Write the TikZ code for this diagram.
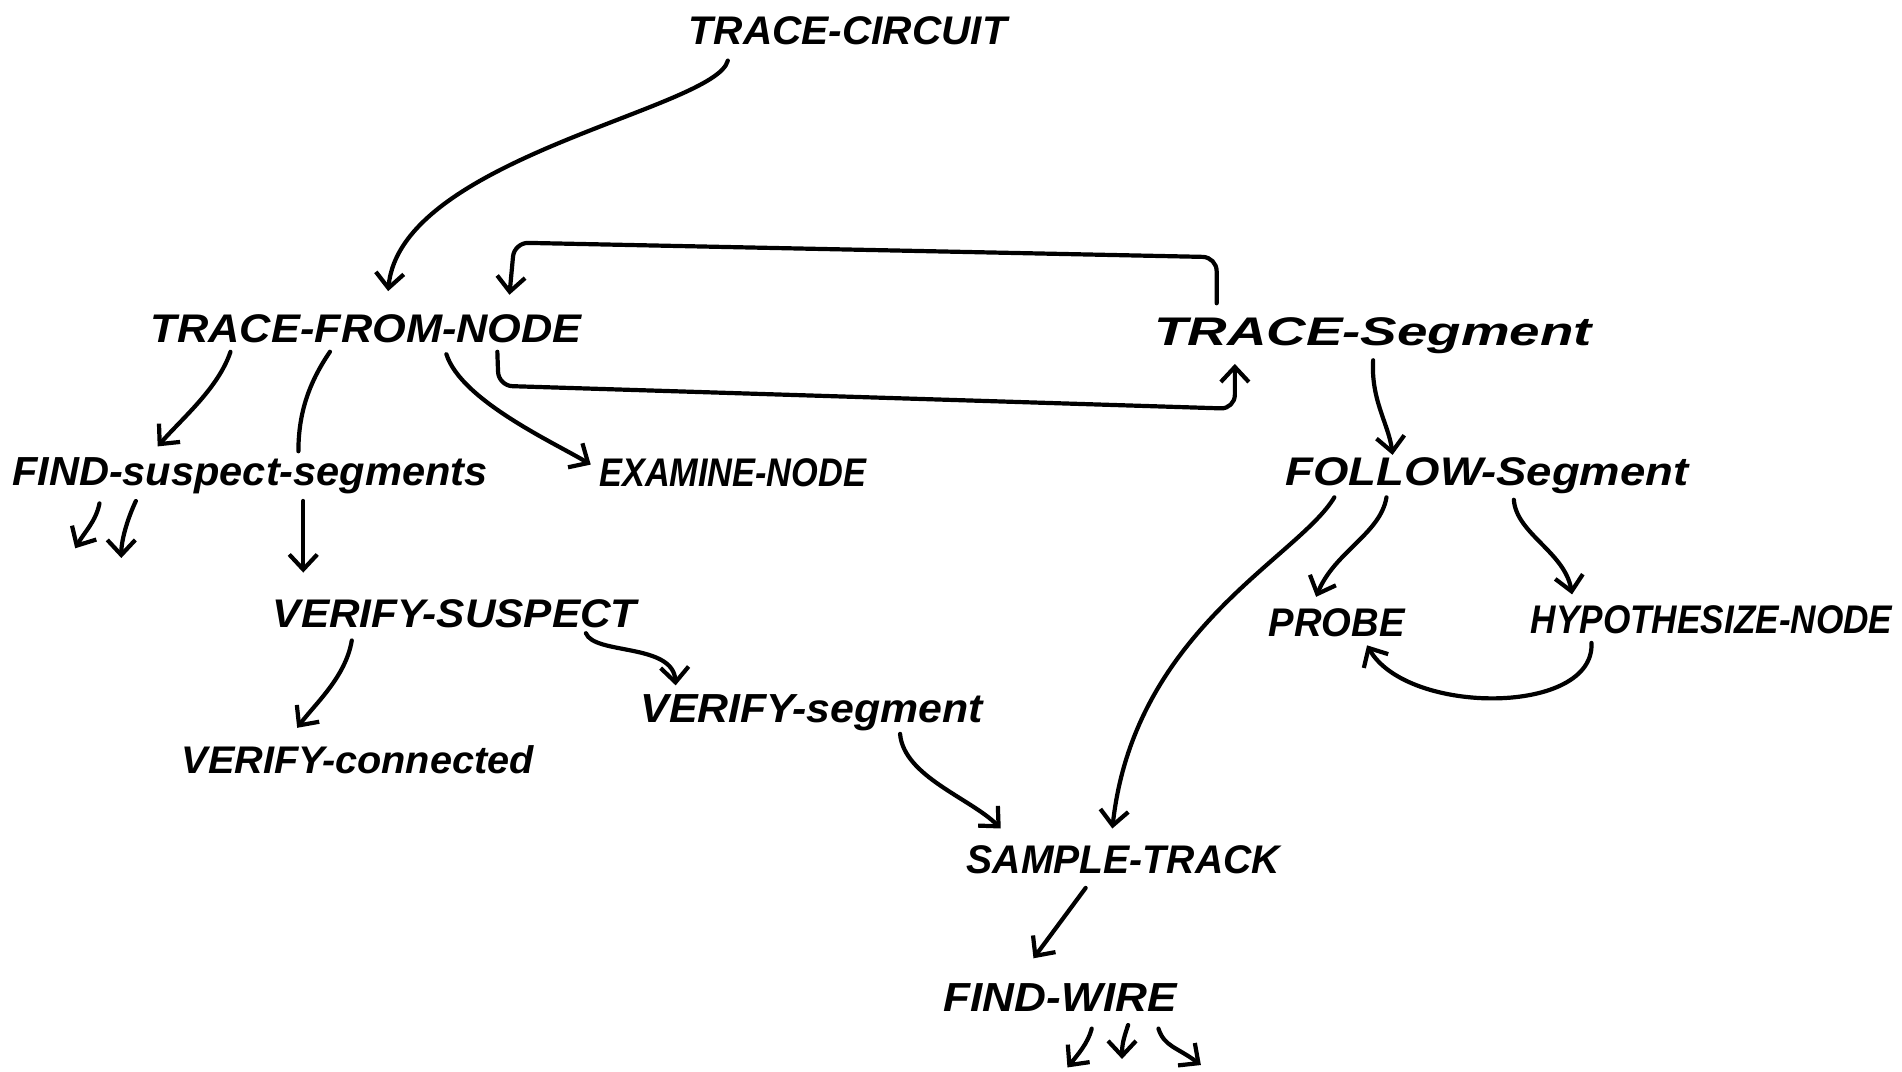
\documentclass[tikz,border=0pt]{standalone}
\usepackage{fontspec}
\setmainfont{Liberation Sans}
\usetikzlibrary{arrows.meta,calc}
\newlength\px \setlength\px{1.213pt}
\newcommand\hw[2]{\resizebox{#1\px}{23\px}{\bfseries\itshape #2}}
\begin{document}
\begin{tikzpicture}[x=1.213pt,y=-1.213pt,
 lbl/.style={inner sep=0pt,anchor=base},
 con/.style={line width=4.2pt,line cap=round,line join=round},
 arr/.style={con,-{Straight Barb[length=15pt,width=28pt]}}]
\useasboundingbox (0,0) rectangle (1568,883);

\node[lbl] (tc)   at (699,37)  {\hw{262}{TRACE-CIRCUIT}};
\node[lbl] (tfn)  at (302,282) {\hw{355}{TRACE-FROM-NODE}};
\node[lbl] (ts)   at (1132,285){\hw{361}{TRACE-Segment}};
\node[lbl] (fss)  at (206,400) {\hw{392}{FIND-suspect-segments}};
\node[lbl] (en)   at (604,401) {\hw{220}{EXAMINE-NODE}};
\node[lbl] (fs)   at (1226,400){\hw{332}{FOLLOW-Segment}};
\node[lbl] (probe)at (1102,525){\hw{112}{PROBE}};
\node[lbl] (hn)   at (1411,522){\hw{298}{HYPOTHESIZE-NODE}};
\node[lbl] (vs)   at (375,517) {\hw{300}{VERIFY-SUSPECT}};
\node[lbl] (vc)   at (295,638) {\hw{290}{VERIFY-connected}};
\node[lbl] (vseg) at (669,596) {\hw{282}{VERIFY-segment}};
\node[lbl] (st)   at (926,720) {\hw{258}{SAMPLE-TRACK}};
\node[lbl] (fw)   at (874,834) {\hw{192}{FIND-WIRE}};

\coordinate (fssa) at ([shift={(-144,52)}]fss.base);
\coordinate (fssb) at ([shift={(-106,60)}]fss.base);
\coordinate (fwa) at ([shift={(6,46)}]fw.base);
\coordinate (fwb) at ([shift={(51,39)}]fw.base);
\coordinate (fwc) at ([shift={(116,44)}]fw.base);

% TRACE-CIRCUIT -> TRACE-FROM-NODE
\draw[arr] ([shift={(-99,13)}]tc.base) .. controls +(-10,40) and +(10,-110) .. ([shift={(18,-42)}]tfn.base);
% loop top: TRACE-SEGMENT -> TRACE-FROM-NODE
\draw[arr,rounded corners=14pt] ([shift={(-129,-35)}]ts.base) -- ++(0,-38) -- ++(-579,-12) -- ([shift={(118,-39)}]tfn.base);
% loop bottom: TRACE-FROM-NODE -> TRACE-SEGMENT
\draw[arr,rounded corners=14pt] ([shift={(108,8)}]tfn.base) -- ++(1,28) -- ([shift={(-114,52)}]ts.base) -- ([shift={(-114,15)}]ts.base);
% TRACE-FROM-NODE -> FIND-suspect-segments
\draw[arr] ([shift={(-112,8)}]tfn.base) .. controls +(-10,30) and +(20,-23) .. ([shift={(-76,-32)}]fss.base);
% TRACE-FROM-NODE -> VERIFY-SUSPECT (through FIND-suspect-segments)
\draw[con] ([shift={(-30,8)}]tfn.base) .. controls +(-17,25) and +(0,-32) .. ([shift={(40,-28)}]fss.base);
\draw[arr] ([shift={(44,13)}]fss.base) -- ([shift={(-125,-45)}]vs.base);
% TRACE-FROM-NODE -> EXAMINE-NODE
\draw[arr] ([shift={(66,10)}]tfn.base) .. controls +(12,38) and +(-30,-18) .. ([shift={(-117,-18)}]en.base);
% FIND-suspect-segments stubs
\draw[arr] ([shift={(-124,15)}]fss.base) .. controls +(-3,15) and +(8,-14) .. (fssa);
\draw[arr] ([shift={(-94,13)}]fss.base) .. controls +(-7,15) and +(0,-15) .. (fssb);
% VERIFY-SUSPECT -> VERIFY-connected
\draw[arr] ([shift={(-85,11)}]vs.base) .. controls +(-5,30) and +(15,-20) .. ([shift={(-50,-38)}]vc.base);
% VERIFY-SUSPECT -> VERIFY-segment
\draw[arr] ([shift={(108,5)}]vs.base) .. controls +(7,18) and +(-2,-35) .. ([shift={(-112,-31)}]vseg.base);
% VERIFY-segment -> SAMPLE-TRACK
\draw[arr] ([shift={(73,9)}]vseg.base) .. controls +(3,35) and +(-25,-25) .. ([shift={(-101,-37)}]st.base);
% TRACE-SEGMENT -> FOLLOW-SEGMENT
\draw[arr] ([shift={(0,12)}]ts.base) .. controls +(-2,33) and +(-3,-25) .. ([shift={(-78,-25)}]fs.base);
% FOLLOW-SEGMENT -> SAMPLE-TRACK
\draw[arr] ([shift={(-126,10)}]fs.base) .. controls +(-30,50) and +(18,-163) .. ([shift={(-9,-37)}]st.base);
% FOLLOW-SEGMENT -> PROBE
\draw[arr] ([shift={(-83,10)}]fs.base) .. controls +(-5,30) and +(15,-37) .. ([shift={(-17,-33)}]probe.base);
% FOLLOW-SEGMENT -> HYPOTHESIZE-NODE
\draw[arr] ([shift={(22,12)}]fs.base) .. controls +(2,28) and +(-6,-35) .. ([shift={(-115,-32)}]hn.base);
% HYPOTHESIZE-NODE -> PROBE
\draw[arr] ([shift={(-99,8)}]hn.base) .. controls +(3,60) and +(33,58) .. ([shift={(25,7)}]probe.base);
% SAMPLE-TRACK -> FIND-WIRE
\draw[arr] ([shift={(-31,12)}]st.base) -- ([shift={(-22,-44)}]fw.base);
% FIND-WIRE stubs
\draw[arr] ([shift={(26,14)}]fw.base) .. controls +(-3,12) and +(8,-10) .. (fwa);
\draw[arr] ([shift={(56,11)}]fw.base) .. controls +(-4,12) and +(0,-12) .. (fwb);
\draw[arr] ([shift={(81,14)}]fw.base) .. controls +(5,15) and +(-20,-15) .. (fwc);
\end{tikzpicture}
\end{document}
